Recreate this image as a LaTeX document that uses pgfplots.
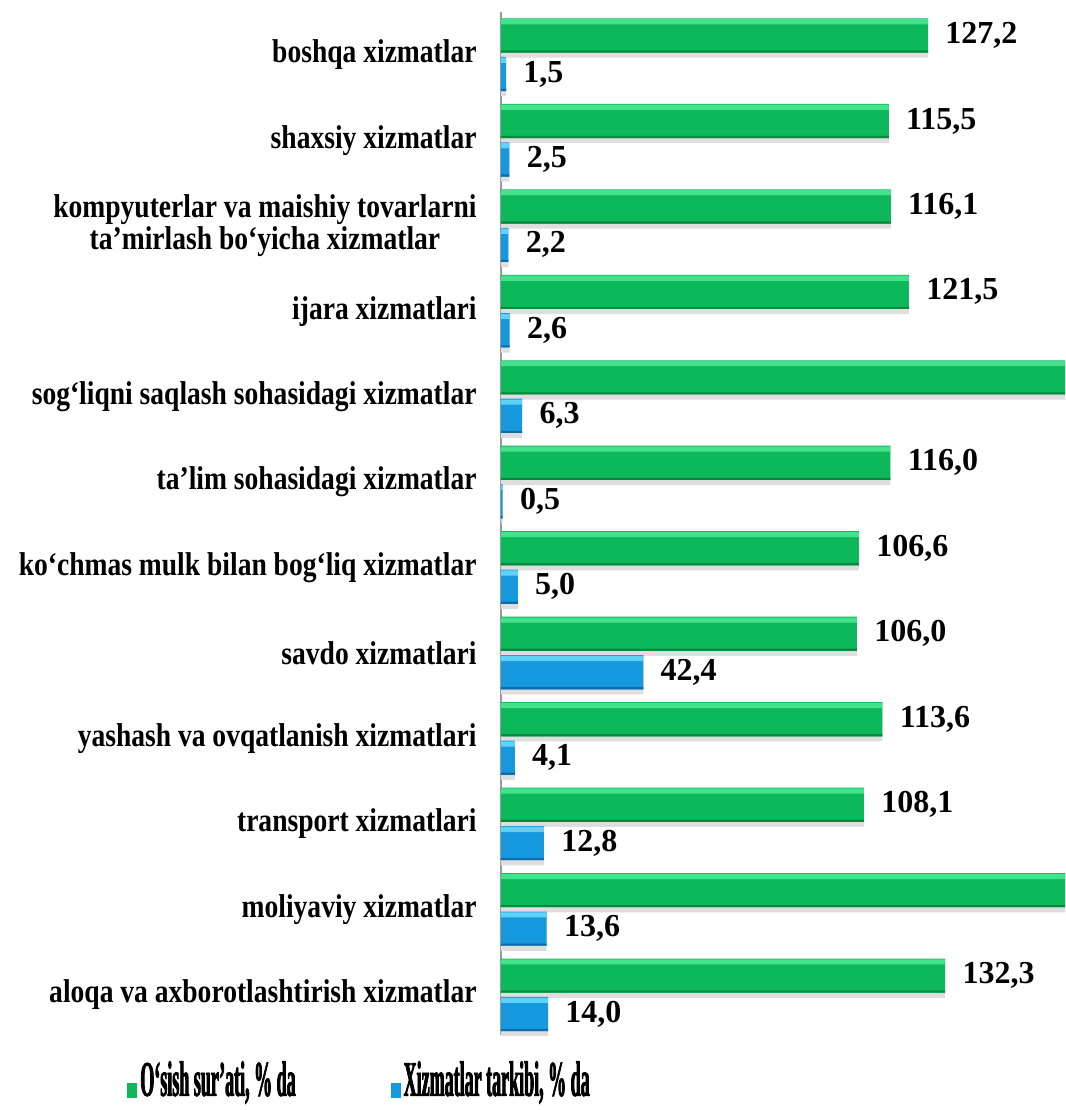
\documentclass[border=0pt]{standalone}
\usepackage{fontspec}
\setmainfont{Liberation Serif}
\newfontfamily\labfont[FakeStretch=0.835]{Liberation Serif}
\newfontfamily\legfont[FakeStretch=0.36,FakeBold=1.5]{Liberation Serif}
\usepackage{pgfplots}
\usepackage{pgfplotstable}
\pgfplotsset{compat=1.18}

\definecolor{gmain}{RGB}{12,184,90}
\definecolor{glight}{RGB}{68,226,140}
\definecolor{gdark}{RGB}{8,135,62}
\definecolor{bmain}{RGB}{22,152,222}
\definecolor{blight}{RGB}{95,210,250}
\definecolor{bdark}{RGB}{14,108,170}

% y: 0 = bottom category; gx = O'sish sur'ati (185 = runs past the edge), b = Xizmatlar tarkibi
\pgfplotstableread{
y  gx     gl     b     bl
0  132.3  132,3  14.0  14,0
1  185    {}     13.6  13,6
2  108.1  108,1  12.8  12,8
3  113.6  113,6  4.1   4,1
4  106.0  106,0  42.4  42,4
5  106.6  106,6  5.0   5,0
6  116.0  116,0  0.5   0,5
7  185    {}     6.3   6,3
8  121.5  121,5  2.6   2,6
9  116.1  116,1  2.2   2,2
10 115.5  115,5  2.5   2,5
11 127.2  127,2  1.5   1,5
}\services

\begin{document}
\begin{tikzpicture}
\begin{axis}[
    scale only axis,
    width=282pt, height=511.5pt,
    xbar, bar width=0.40,
    xmin=0, xmax=168,
    ymin=-0.47, ymax=11.5,
    clip bounding box=upper bound,
    hide x axis,
    axis y line*=left,
    y axis line style={draw=gray!80, line width=1pt},
    ytick={0,...,11},
    yticklabels={
        {aloqa va axborotlashtirish xizmatlar},
        {moliyaviy xizmatlar},
        {transport xizmatlari},
        {yashash va ovqatlanish xizmatlari},
        {savdo xizmatlari},
        {ko‘chmas mulk bilan bog‘liq xizmatlar},
        {ta’lim sohasidagi xizmatlar},
        {sog‘liqni saqlash sohasidagi xizmatlar},
        {ijara xizmatlari},
        {kompyuterlar va maishiy tovarlarni\\ta’mirlash bo‘yicha xizmatlar},
        {shaxsiy xizmatlar},
        {boshqa xizmatlar}},
    major tick length=0pt,
    yticklabel style={font=\labfont\bfseries\fontsize{16.5}{15}\selectfont,
        align=center, inner sep=0pt, xshift=-12pt},
    every node near coord/.append style={font=\bfseries\fontsize{16}{16}\selectfont,
        anchor=west, inner sep=0pt, xshift=8.5pt, text=black},
    legend style={at={(-0.25,-0.044)}, anchor=center, draw=none, fill=none,
        legend columns=2, inner sep=0pt,
        font=\legfont\bfseries\fontsize{25}{26}\selectfont,
        nodes={inner sep=1.5pt},
        /tikz/every even column/.append style={column sep=46pt}},
    legend image code/.code={\fill[#1] (0pt,-9pt) rectangle (5pt,-1.5pt);},
]
% shadows
\addplot[forget plot, bar shift=0.165, fill=black!13, draw=none]
    table[x=gx, y=y] {\services};
\addplot[forget plot, bar shift=-0.285, fill=black!13, draw=none]
    table[x=b, y=y] {\services};
% main bars
\addplot[bar shift=0.225, fill=gmain, draw=none,
    nodes near coords, point meta=explicit symbolic]
    table[x=gx, y=y, meta=gl] {\services};
\addlegendentry{O‘sish sur’ati, \% da}
\addplot[bar shift=-0.225, fill=bmain, draw=none,
    nodes near coords, point meta=explicit symbolic]
    table[x=b, y=y, meta=bl] {\services};
\addlegendentry{Xizmatlar tarkibi, \% da}
% bevel strips
\addplot[forget plot, bar width=0.06, bar shift=0.385, fill=glight, draw=none]
    table[x=gx, y=y] {\services};
\addplot[forget plot, bar width=0.025, bar shift=0.0375, fill=gdark, draw=none]
    table[x=gx, y=y] {\services};
\addplot[forget plot, bar width=0.06, bar shift=-0.065, fill=blight, draw=none]
    table[x=b, y=y] {\services};
\addplot[forget plot, bar width=0.025, bar shift=-0.4125, fill=bdark, draw=none]
    table[x=b, y=y] {\services};
\end{axis}
\pgfresetboundingbox
\path[use as bounding box] ([xshift=-250.5pt,yshift=-37.5pt]current axis.south west)
    rectangle ([yshift=6pt]current axis.north east);
\end{tikzpicture}
\end{document}
